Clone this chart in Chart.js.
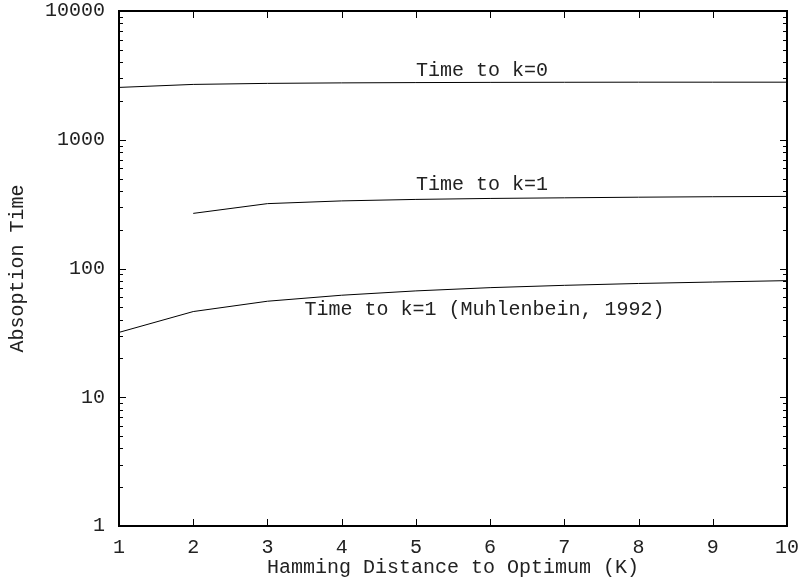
<!DOCTYPE html>
<html>
<head>
<meta charset="utf-8">
<script src="https://cdn.jsdelivr.net/npm/chart.js@4"></script>
<style>
  html, body { margin: 0; padding: 0; background: #fff; }
  canvas { display: block; }
</style>
</head>
<body>
<canvas id="absChart" width="801" height="580"></canvas>
<script>
var distance = [1, 2, 3, 4, 5, 6, 7, 8, 9, 10];
var timeK0 = [2550, 2690, 2740, 2765, 2780, 2790, 2795, 2800, 2800, 2800];
var timeK1 = [null, 268, 319, 335, 344, 350, 354, 358, 361, 363];
var timeMuhlenbein = [31.9, 46.3, 55.7, 62, 67, 71, 74, 76.5, 78.5, 80.5];
var yTickLabels = [1, 10, 100, 1000, 10000];

var curveLabels = ["Time to k=0", "Time to k=1", "Time to k=1 (Muhlenbein, 1992)"];
var curveLabelX = [5, 5, 3.5];
var curveLabelY = [3450, 450, 48];

var monoFont = '"Liberation Mono", "Courier New", monospace';
var textColor = '#222';

function toPoints(values) {
    return distance.map(function (d, i) {
        return { x: d, y: values[i] };
    });
}

function lineSet(label, values) {
    return {
        label: label,
        data: toPoints(values),
        borderColor: '#000',
        borderWidth: 1,
        pointRadius: 0,
        fill: false,
        tension: 0
    };
}

// frame, inward ticks on all four sides, and the curve captions
var frameTicks = {
    id: 'frameTicks',
    afterDraw: function (chart) {
        var ctx = chart.ctx;
        var area = chart.chartArea;
        var xs = chart.scales.x;
        var ys = chart.scales.y;
        ctx.save();
        ctx.strokeStyle = '#000';
        ctx.lineWidth = 1;
        ctx.beginPath();
        xs.ticks.forEach(function (t) {
            var px = Math.round(xs.getPixelForValue(t.value)) + 0.5;
            ctx.moveTo(px, area.bottom);
            ctx.lineTo(px, area.bottom - 7);
            ctx.moveTo(px, area.top);
            ctx.lineTo(px, area.top + 7);
        });
        ys.ticks.forEach(function (t) {
            var len = yTickLabels.indexOf(t.value) >= 0 ? 7 : 4;
            var py = Math.round(ys.getPixelForValue(t.value)) + 0.5;
            ctx.moveTo(area.left, py);
            ctx.lineTo(area.left + len, py);
            ctx.moveTo(area.right, py);
            ctx.lineTo(area.right - len, py);
        });
        ctx.stroke();
        ctx.lineWidth = 2;
        ctx.strokeRect(area.left, area.top, area.right - area.left, area.bottom - area.top);

        ctx.font = '20px ' + monoFont;
        ctx.fillStyle = textColor;
        ctx.textAlign = 'left';
        ctx.textBaseline = 'middle';
        curveLabels.forEach(function (txt, i) {
            ctx.fillText(txt, xs.getPixelForValue(curveLabelX[i]), ys.getPixelForValue(curveLabelY[i]));
        });
        ctx.restore();
    }
};

var ctx = document.getElementById("absChart").getContext('2d');
var absChart = new Chart(ctx, {
    type: 'line',
    data: {
        datasets: [
            lineSet('Time to k=0', timeK0),
            lineSet('Time to k=1', timeK1),
            lineSet('Time to k=1 (Muhlenbein, 1992)', timeMuhlenbein)
        ]
    },
    plugins: [frameTicks],
    options: {
        responsive: false,
        animation: false,
        devicePixelRatio: 1,
        layout: {
            padding: { top: 11, right: 14, left: 0, bottom: 0 }
        },
        plugins: {
            legend: { display: false },
            tooltip: { enabled: false }
        },
        scales: {
            x: {
                type: 'linear',
                min: 1,
                max: 10,
                grid: { display: false, drawTicks: false },
                border: { display: false },
                ticks: {
                    stepSize: 1,
                    padding: 10,
                    color: textColor,
                    font: { family: monoFont, size: 20 }
                },
                title: {
                    display: true,
                    text: 'Hamming Distance to Optimum (K)',
                    color: textColor,
                    font: { family: monoFont, size: 20 },
                    padding: { top: 0, bottom: 0 }
                },
                afterFit: function (scale) {
                    scale.height = 54;
                    scale.paddingLeft = 0;
                    scale.paddingRight = 0;
                }
            },
            y: {
                type: 'logarithmic',
                min: 1,
                max: 10000,
                grid: { display: false, drawTicks: false },
                border: { display: false },
                afterBuildTicks: function (scale) {
                    var ticks = [];
                    for (var i = 0; i < yTickLabels.length - 1; i++) {
                        for (var m = 1; m < 10; m++) {
                            ticks.push({ value: m * yTickLabels[i] });
                        }
                    }
                    ticks.push({ value: yTickLabels[yTickLabels.length - 1] });
                    scale.ticks = ticks;
                },
                ticks: {
                    autoSkip: false,
                    padding: 14,
                    color: textColor,
                    font: { family: monoFont, size: 20 },
                    callback: function (value) {
                        return yTickLabels.indexOf(value) >= 0 ? String(value) : '';
                    }
                },
                title: {
                    display: true,
                    text: 'Absoption Time',
                    color: textColor,
                    font: { family: monoFont, size: 20 },
                    padding: { top: 6, bottom: 0 }
                },
                afterFit: function (scale) {
                    scale.width = 119;
                    scale.paddingTop = 0;
                    scale.paddingBottom = 0;
                }
            }
        }
    }
});
</script>
</body>
</html>
